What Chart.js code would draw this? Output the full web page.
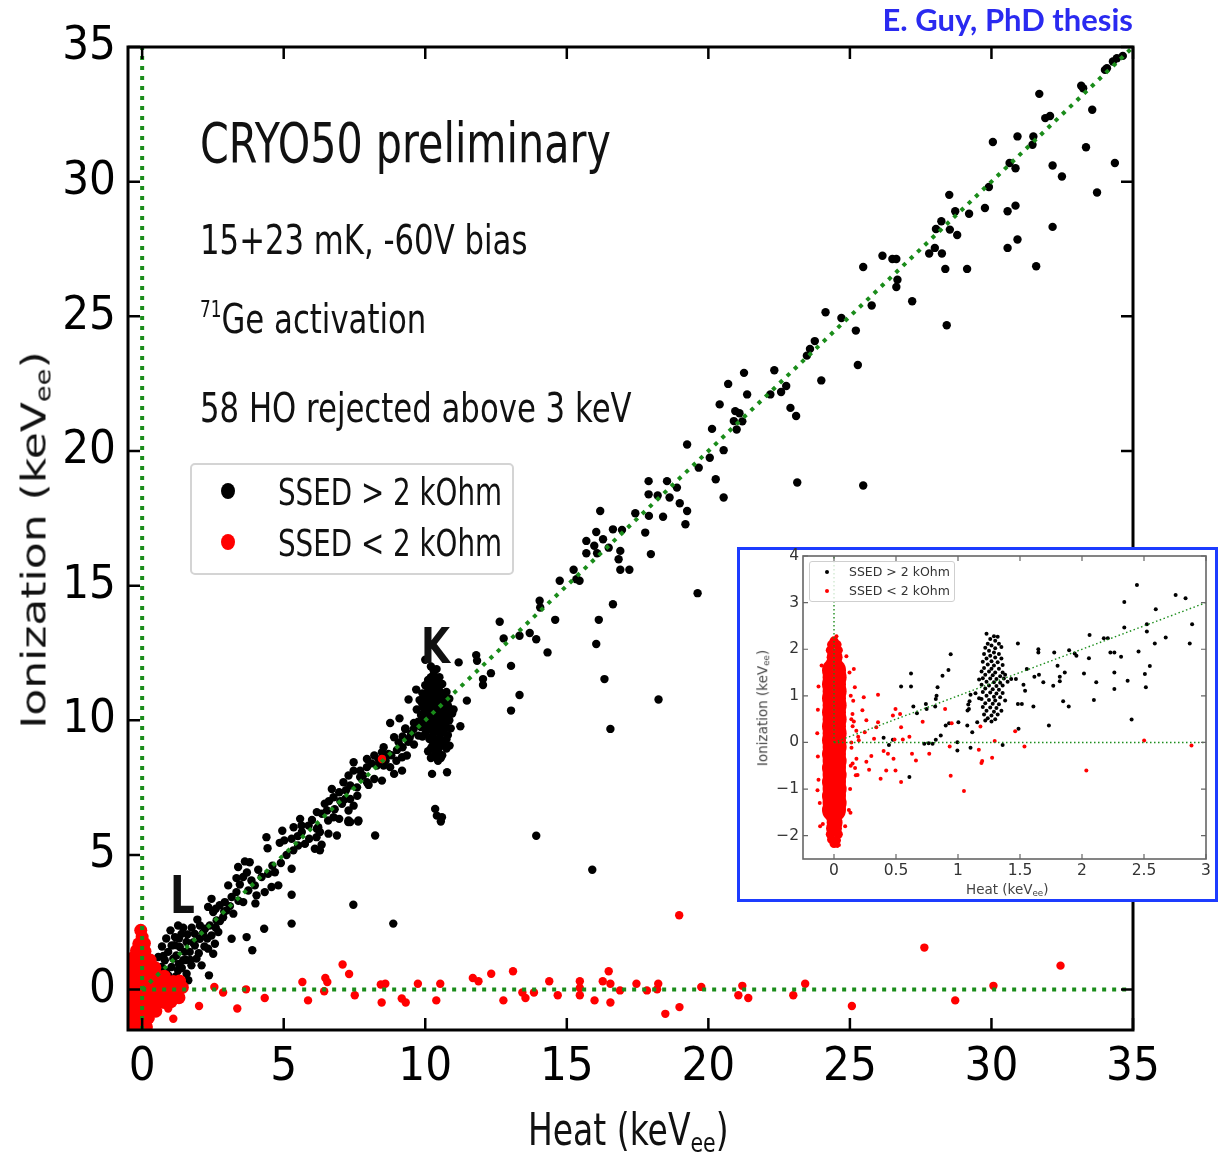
<!DOCTYPE html>
<html><head><meta charset="utf-8">
<script src="https://cdn.jsdelivr.net/npm/chart.js@4.4.1/dist/chart.umd.min.js"></script>
<style>
html,body{margin:0;padding:0;background:#fff;}
#wrap{position:relative;width:1223px;height:1152px;overflow:hidden;background:#fff;}
canvas{position:absolute;}
.t{position:absolute;white-space:nowrap;line-height:1;font-family:"DejaVu Sans",sans-serif;color:#111;transform-origin:0 0;transform:scaleX(0.75);}
.t sub{font-size:0.62em;vertical-align:-0.24em;line-height:0;}
.t sup{font-size:0.55em;vertical-align:0.72em;line-height:0;}
.n{position:absolute;white-space:nowrap;line-height:1;font-family:"DejaVu Sans",sans-serif;color:#333;}
.n sub{font-size:0.65em;vertical-align:-0.25em;line-height:0;}
.dot{position:absolute;border-radius:50%;}
</style></head>
<body><div id="wrap">
<canvas id="main" width="1223" height="1152" style="left:0;top:0;z-index:1"></canvas>
<div style="position:absolute;left:737px;top:547px;width:475px;height:349px;border:3px solid #1d3cff;background:#fff;z-index:2"></div>
<canvas id="inset" width="481" height="362" style="left:737px;top:540px;z-index:3"></canvas>

<div style="position:absolute;right:90px;top:4px;font-family:Lato,'Open Sans',sans-serif;font-weight:700;font-size:31px;line-height:1;color:#2a2af0;z-index:5;white-space:nowrap">E. Guy, PhD thesis</div>

<div class="t" style="left:200px;top:115.5px;font-size:55px;z-index:4">CRYO50 preliminary</div>
<div class="t" style="left:200px;top:220px;font-size:41px;z-index:4">15+23 mK, -60V bias</div>
<div class="t" style="left:200px;top:299px;font-size:41px;z-index:4"><sup>71</sup>Ge activation</div>
<div class="t" style="left:200px;top:388px;font-size:41px;z-index:4">58 HO rejected above 3 keV</div>

<div style="position:absolute;left:190px;top:463px;width:320px;height:108px;border:2px solid #d4d4d4;border-radius:5px;background:rgba(255,255,255,0.85);z-index:4"></div>
<div class="dot" style="left:221px;top:483px;width:14px;height:16px;background:#000;z-index:5"></div>
<div class="dot" style="left:221px;top:534px;width:14px;height:16px;background:#ff0000;z-index:5"></div>
<div class="t" style="left:278px;top:474px;font-size:37px;z-index:5">SSED &gt; 2 kOhm</div>
<div class="t" style="left:278px;top:525px;font-size:37px;z-index:5">SSED &lt; 2 kOhm</div>

<div class="t" style="left:421px;top:621px;font-size:50px;font-weight:700;z-index:4">K</div>
<div class="t" style="left:170px;top:869px;font-size:52px;font-weight:700;z-index:4">L</div>

<div class="t" style="left:528px;top:1108px;font-size:44px;z-index:4">Heat (keV<sub>ee</sub>)</div>
<div class="t" style="left:34px;top:540px;font-size:44px;z-index:4;transform:scaleX(0.75) rotate(-90deg) translate(-50%,-50%)">Ionization (keV<sub>ee</sub>)</div>

<div style="position:absolute;left:809px;top:561px;width:144px;height:39px;border:1px solid #cfcfcf;border-radius:3px;background:rgba(255,255,255,0.8);z-index:6"></div>
<div class="dot" style="left:825px;top:570px;width:4px;height:4px;background:#000;z-index:7"></div>
<div class="dot" style="left:825px;top:589px;width:4px;height:4px;background:#ff0000;z-index:7"></div>
<div class="n" style="left:849px;top:566px;font-size:12.5px;z-index:7">SSED &gt; 2 kOhm</div>
<div class="n" style="left:849px;top:585px;font-size:12.5px;z-index:7">SSED &lt; 2 kOhm</div>
<div class="n" style="left:966px;top:883px;font-size:13.5px;color:#444;z-index:7">Heat (keV<sub>ee</sub>)</div>
<div class="n" style="left:763px;top:708px;font-size:13.5px;color:#444;z-index:7;transform-origin:0 0;transform:rotate(-90deg) translate(-50%,-50%)">Ionization (keV<sub>ee</sub>)</div>
</div>
<script>
// ---------------- tick values ----------------
const mainXTicks = [0,5,10,15,20,25,30,35];
const mainYTicks = [0,5,10,15,20,25,30,35];
const insetXTicks = [0,0.5,1,1.5,2,2.5,3];
const insetYTicks = [-2,-1,0,1,2,3,4];

// ---------------- main chart: reference lines ----------------
const refVertical = [[0,-1.5],[0,35]];
const refHorizontal = [[0,0],[35,0]];
const refDiagonal = [[0,0],[35,35]];

// ---------------- main chart: SSED > 2 kOhm (black) ----------------
const blackUpper = [[34.64,34.67],[34.43,34.58],[34.29,34.46],[34.08,34.21],[34.01,34.15],[31.69,33.26],[33.17,33.56],[33.24,33.47],[33.56,32.67],[31.90,32.36],[32.07,32.44],[30.05,31.47],[30.92,31.68],[31.48,31.68],[31.45,31.37],[33.34,31.28],[34.36,30.69],[30.64,30.69],[30.85,30.50],[32.16,30.60],[32.49,30.19],[29.91,29.80],[33.73,29.60],[28.51,29.51],[28.72,28.90],[29.21,28.81],[29.77,29.02],[30.57,28.90],[30.85,29.11],[28.23,28.53],[28.04,28.24],[28.53,28.22],[28.79,28.02],[32.16,28.32],[30.92,27.85],[30.57,27.54],[27.80,27.33],[28.00,27.54],[28.25,27.33],[26.15,27.25],[26.50,27.13],[26.64,27.13],[25.47,26.83],[28.37,26.76],[29.14,26.76],[31.58,26.86],[26.68,26.36],[26.64,26.09],[27.20,25.56],[25.77,25.40],[24.14,25.15],[24.70,24.94],[25.21,24.47],[28.42,24.67],[23.76,24.08],[23.59,23.79],[23.48,23.54],[25.28,23.19],[21.26,22.90],[22.33,23.00],[23.99,22.62],[20.70,22.49],[22.75,22.41],[22.57,22.19],[21.37,22.10],[22.19,22.10],[21.1,21.4],[21.2,21.1],[21.0,20.8],[22.9,21.6],[23.1,21.3],[23.14,18.83],[25.47,18.72]];
const blackMid = [[20.40,21.73],[20.95,21.48],[20.90,21.11],[20.13,20.82],[20.54,20.03],[20.05,19.75],[19.66,19.38],[19.25,20.24],[20.26,18.95],[20.54,18.27],[17.89,18.88],[17.89,18.39],[18.54,18.88],[18.63,18.27],[18.89,18.64],[18.99,18.06],[19.25,17.77],[19.19,17.28],[18.21,18.35],[17.90,17.59],[18.40,17.56],[17.42,17.69],[17.77,16.97],[17.97,16.17],[16.18,17.77],[16.63,17.09],[16.95,17.07],[16.04,16.99],[15.69,16.66],[15.97,16.48],[16.28,16.72],[16.48,16.41],[15.69,16.20],[16.07,16.20],[16.89,16.29],[16.83,15.98],[16.89,15.59],[17.21,15.59],[15.24,15.59],[15.34,15.24],[15.45,15.18],[14.75,15.18],[14.04,14.44],[14.06,14.19],[14.59,13.73],[16.13,13.73],[16.63,14.31],[19.62,14.72],[12.63,13.66],[12.77,13.04],[13.33,13.14],[13.69,13.24],[13.92,13.01],[14.32,12.52],[16.04,12.83],[11.80,12.42],[11.83,12.21],[12.32,11.75],[12.04,11.53],[12.04,11.31],[11.18,12.15],[13.03,12.02],[13.33,10.94],[11.47,10.73],[13.03,10.36],[16.33,11.53],[18.24,10.77],[16.54,9.68],[13.92,5.71],[15.9,4.45]];
const blackK = [[10.2,12.0],[10.4,11.9],[10.3,11.7],[10.5,11.6],[10.1,11.5],[10.35,11.4],[10.6,11.35],[10.0,11.3],[10.25,11.2],[10.5,11.1],[10.75,11.05],[9.9,11.0],[10.15,10.95],[10.4,10.9],[10.65,10.85],[10.85,10.8],[9.8,10.75],[10.05,10.7],[10.3,10.65],[10.55,10.6],[10.8,10.55],[9.95,10.45],[10.2,10.4],[10.45,10.35],[10.7,10.3],[10.95,10.25],[9.85,10.2],[10.1,10.15],[10.35,10.1],[10.6,10.05],[10.85,10.0],[9.75,9.95],[10.0,9.9],[10.25,9.85],[10.5,9.8],[10.75,9.75],[10.05,9.6],[10.3,9.55],[10.55,9.5],[10.8,9.45],[9.9,9.4],[10.15,9.3],[10.4,9.25],[10.65,9.2],[10.25,9.05],[10.5,9.0],[10.75,8.95],[10.1,8.85],[10.35,8.75],[10.6,8.7],[10.45,8.5],[10.2,8.6],[10.9,9.7],[11.0,10.4],[9.7,10.4],[9.6,9.9],[9.5,9.5],[9.3,9.7],[9.4,9.2],[9.6,9.1],[9.2,9.4],[10.0,12.25],[11.24,9.78],[10.86,9.06],[10.24,8.01],[10.77,8.07],[10.35,6.71],[10.41,6.46],[10.59,6.40],[10.55,6.24],[9.68,11.14],[9.41,10.77],[9.29,9.68],[9.59,9.68],[9.76,9.43],[9.09,10.07],[8.76,9.90],[8.90,9.37],[9.06,9.18],[8.53,9.00],[8.47,8.81],[8.70,8.75],[8.98,8.50],[9.18,8.63],[9.35,8.69],[8.20,8.69],[7.94,8.56],[8.29,8.32],[8.53,8.32],[8.76,8.26],[8.90,8.01],[9.18,8.13],[10.3,11.85],[10.2,11.6],[10.45,11.5],[10.25,11.35],[10.45,11.25],[10.1,11.1],[10.35,11.05],[10.6,11.0],[9.95,10.85],[10.25,10.8],[10.5,10.75],[10.75,10.7],[9.9,10.6],[10.15,10.55],[10.4,10.5],[10.65,10.45],[10.9,10.4],[10.05,10.3],[10.3,10.25],[10.55,10.2],[10.8,10.15],[9.9,10.05],[10.2,10.0],[10.45,9.95],[10.7,9.9],[9.85,9.75],[10.15,9.7],[10.4,9.65],[10.65,9.6],[10.0,9.5],[10.25,9.4],[10.5,9.35],[10.75,9.3],[10.35,9.15],[10.6,9.1],[10.2,8.95],[10.45,8.9],[10.3,8.65],[10.55,8.6]];
const blackBand = [[7.94,8.26],[7.70,8.13],[7.47,8.44],[7.47,8.13],[7.29,7.95],[7.70,7.89],[7.94,7.70],[8.20,7.82],[8.47,7.76],[7.11,7.70],[7.35,7.58],[7.59,7.51],[6.70,7.45],[6.96,7.33],[7.17,7.08],[6.76,7.14],[7.35,7.08],[7.47,6.83],[7.29,6.65],[7.06,6.90],[6.53,6.65],[6.35,6.53],[6.17,6.59],[6.76,6.40],[6.96,6.34],[7.29,6.28],[7.35,6.22],[7.64,6.28],[5.58,6.34],[5.88,6.09],[5.35,6.03],[6.17,5.97],[5.64,5.85],[6.88,5.72],[6.58,5.79],[8.23,5.72],[5.63,6.09],[6.22,6.03],[6.28,5.85],[6.16,5.66],[6.34,5.38],[6.10,5.23],[6.28,5.17],[6.57,6.28],[7.28,6.22],[7.63,6.24],[4.39,5.66],[4.43,5.25],[4.86,5.45],[5.02,5.54],[5.28,5.60],[5.34,5.17],[5.51,5.35],[5.75,5.41],[5.28,4.49],[5.28,3.52],[5.28,2.45],[7.46,3.15],[8.87,2.45],[4.31,2.26],[3.39,4.55],[3.63,4.76],[3.80,4.73],[3.33,4.14],[3.57,4.18],[3.86,4.05],[3.98,3.87],[4.22,4.18],[4.45,4.30],[4.69,4.36],[4.81,3.87],[4.57,3.81],[4.33,3.62],[4.04,3.50],[3.75,3.68],[3.57,3.25],[3.33,3.62],[3.04,3.87],[3.16,3.44],[2.92,3.25],[2.74,3.13],[2.98,2.94],[3.22,2.82],[2.86,2.69],[2.45,3.37],[2.33,3.07],[2.51,2.88],[2.63,2.57],[2.39,2.38],[2.22,2.26],[2.69,2.14],[2.45,2.01],[2.57,1.70],[2.33,1.52],[2.51,1.33],[2.04,2.38],[1.86,2.07],[2.04,1.89],[1.86,1.64],[1.68,1.40],[1.92,1.15],[2.10,0.90],[1.74,0.90],[1.27,2.38],[1.39,2.07],[1.16,1.95],[1.57,1.77],[1.33,1.58],[1.04,1.64],[0.92,1.40],[1.21,1.27],[1.45,1.09],[0.80,1.09],[0.68,0.84],[1.04,0.84],[1.27,0.72],[1.57,0.59],[0.92,0.53],[0.57,1.21],[0.45,0.90],[0.33,0.65],[3.16,1.89],[3.69,1.95],[3.89,1.46],[2.36,0.53],[1.63,0.35],[0.98,0.16]];
const blackLowExtra = [[0.7,1.6],[0.85,1.9],[1.0,2.2],[1.15,1.65],[1.3,1.9],[1.45,2.3],[1.5,1.4],[1.6,2.05],[1.75,2.3],[1.8,1.75],[1.95,2.6],[2.15,2.1],[2.2,1.6],[2.0,1.35],[1.55,1.1],[1.3,0.95],[1.1,1.15],[0.85,0.7],[0.55,0.55],[0.75,1.25],[1.2,0.5],[1.4,0.8],[1.7,1.1],[2.3,1.9],[2.6,2.3],[2.75,2.55],[2.9,2.9],[3.1,3.1],[2.6,3.0],[3.4,3.3],[3.45,3.9],[3.7,4.35],[4.1,4.45],[4.0,3.2],[4.6,4.6],[4.9,4.7],[5.1,5.0],[4.95,5.9],[5.5,5.7],[5.9,5.6],[6.0,6.3],[6.45,6.9],[6.6,7.0],[7.0,7.0],[7.2,7.4],[7.8,7.95],[8.1,8.4],[8.35,8.55],[8.6,8.5],[8.8,8.7],[9.0,8.9],[9.2,9.0],[9.45,9.35],[7.6,7.2],[6.8,6.7],[8.0,7.6]];

// ---------------- main chart: SSED < 2 kOhm (red) ----------------
const redScatter = [[2.55,0.10],[2.86,-0.11],[2.01,-0.61],[3.36,-0.70],[3.67,0.01],[4.33,-0.31],[5.66,0.28],[5.86,-0.40],[6.47,0.43],[6.54,0.28],[6.43,-0.06],[7.08,0.93],[7.31,0.58],[7.51,-0.21],[8.43,0.19],[8.59,0.22],[8.46,-0.48],[9.17,-0.33],[9.31,-0.48],[9.74,0.22],[10.39,-0.40],[10.53,0.22],[11.68,0.43],[11.88,0.31],[12.33,0.59],[12.76,-0.40],[13.10,0.68],[13.43,-0.11],[13.54,-0.31],[13.84,-0.11],[14.38,0.31],[14.68,-0.21],[15.46,0.31],[15.46,0.06],[15.46,-0.21],[15.98,-0.40],[16.27,0.31],[16.48,0.68],[16.54,0.22],[16.54,-0.48],[16.88,-0.03],[17.46,0.22],[17.83,-0.03],[18.23,0.22],[18.19,0.01],[18.48,-0.9],[18.98,-0.65],[19.75,0.10],[18.97,2.76],[21.06,-0.21],[21.20,0.14],[21.41,-0.31],[23.00,-0.21],[23.42,0.22],[25.07,-0.61],[27.63,1.56],[28.72,-0.40],[30.07,0.14],[32.44,0.89],[8.47,8.56],[0.92,-0.70],[1.10,-1.08]];
const redBlob = [[-0.05,2.2],[0.0,1.95],[-0.12,1.7],[0.08,1.72],[-0.2,1.45],[0.1,1.42],[-0.3,1.2],[0.0,1.18],[0.28,1.1],[-0.32,0.9],[-0.1,0.88],[0.2,0.85],[0.45,0.82],[-0.35,0.6],[-0.1,0.58],[0.2,0.56],[0.5,0.55],[0.78,0.5],[-0.4,0.3],[-0.1,0.3],[0.2,0.28],[0.5,0.3],[0.8,0.28],[1.1,0.3],[1.32,0.32],[-0.4,0.03],[-0.1,0.05],[0.2,0.03],[0.5,0.05],[0.8,0.02],[1.1,0.05],[1.42,0.08],[-0.4,-0.22],[-0.1,-0.2],[0.2,-0.22],[0.5,-0.2],[0.8,-0.22],[1.1,-0.2],[1.3,-0.3],[-0.4,-0.5],[-0.1,-0.5],[0.2,-0.5],[0.5,-0.5],[0.8,-0.48],[1.02,-0.45],[-0.4,-0.8],[-0.1,-0.8],[0.2,-0.78],[0.48,-0.8],[-0.4,-1.1],[-0.1,-1.1],[0.22,-1.05],[-0.4,-1.4],[-0.1,-1.38],[0.15,-1.38]];

// ---------------- inset (0-3 keV zoom) ----------------
const insetRefVertical = [[0,0],[0,4]];
const insetRefHorizontal = [[0,0],[3,0]];
const insetRefDiagonal = [[0,0],[3,3]];
const insetBlack = [[2.443,3.376],[2.341,3.013],[2.755,3.162],[2.835,3.091],[2.595,2.856],[2.888,2.535],[2.523,2.535],[2.523,2.379],[2.341,2.464],[2.675,2.250],[2.869,2.122],[2.587,2.122],[2.456,1.951],[2.547,1.638],[2.507,1.467],[2.515,1.182],[2.368,1.325],[2.261,1.503],[2.261,1.147],[2.400,0.491],[2.176,2.236],[2.208,2.236],[2.061,2.307],[2.056,1.809],[2.229,1.930],[2.261,1.930],[2.315,1.838],[1.941,1.909],[1.955,1.859],[1.896,1.980],[2.016,1.481],[2.115,1.289],[2.096,0.911],[1.776,1.930],[1.648,2.001],[1.648,1.930],[1.803,1.645],[1.861,1.503],[1.821,1.410],[1.821,1.311],[1.768,1.218],[1.848,0.883],[1.893,0.769],[1.733,0.363],[1.616,1.410],[1.653,1.453],[1.688,1.289],[1.608,0.769],[1.555,1.574],[1.528,1.239],[1.483,2.122],[1.429,1.360],[1.467,1.360],[1.515,0.826],[1.483,0.826],[1.488,0.292],[1.541,1.111],[1.360,-0.057],[1.083,0.812],[1.088,0.719],[1.093,0.883],[1.077,0.684],[1.101,1.025],[1.141,1.054],[1.003,0.434],[1.075,0.363],[1.115,0.221],[1.155,0.434],[0.995,0.007],[0.995,-0.171],[1.101,-0.114],[0.941,1.894],[0.923,1.553],[0.875,1.431],[0.835,1.182],[0.827,1.004],[0.821,0.933],[0.741,0.826],[0.747,0.719],[0.816,0.769],[0.640,0.769],[0.621,1.203],[0.541,1.203],[0.621,1.481],[0.861,0.149],[0.901,0.363],[0.928,0.412],[0.763,-0.015],[0.795,-0.029],[0.728,-0.029],[0.821,0.057],[0.608,-0.741],[0.669,0.626],[0.443,-0.057],[0.400,0.100],[0.475,0.057]];
const insetBlackCluster = [[1.23,2.33],[1.29,2.28],[1.32,2.27],[1.26,2.22],[1.30,2.18],[1.24,2.12],[1.33,2.12],[1.27,2.08],[1.22,2.03],[1.30,2.02],[1.35,2.05],[1.25,1.97],[1.29,1.93],[1.21,1.9],[1.33,1.9],[1.26,1.86],[1.3,1.82],[1.23,1.8],[1.35,1.8],[1.2,1.73],[1.27,1.74],[1.32,1.72],[1.24,1.67],[1.29,1.65],[1.36,1.66],[1.21,1.6],[1.27,1.58],[1.33,1.58],[1.19,1.52],[1.25,1.52],[1.3,1.5],[1.36,1.5],[1.22,1.45],[1.28,1.44],[1.34,1.42],[1.2,1.38],[1.26,1.37],[1.31,1.36],[1.37,1.37],[1.23,1.3],[1.29,1.29],[1.34,1.28],[1.19,1.24],[1.25,1.22],[1.31,1.21],[1.36,1.22],[1.22,1.16],[1.28,1.14],[1.33,1.13],[1.2,1.08],[1.26,1.07],[1.31,1.05],[1.36,1.06],[1.23,1.0],[1.29,0.98],[1.34,0.97],[1.19,0.93],[1.25,0.91],[1.3,0.9],[1.22,0.84],[1.28,0.83],[1.33,0.82],[1.2,0.76],[1.26,0.75],[1.31,0.74],[1.23,0.68],[1.29,0.66],[1.35,0.68],[1.21,0.6],[1.27,0.58],[1.32,0.6],[1.24,0.52],[1.3,0.5],[1.27,0.45],[1.22,0.47],[1.38,1.45],[1.4,1.3],[1.17,1.35],[1.17,0.95],[1.38,0.9]];
const insetRed = [[2.501,0.043],[2.883,-0.064],[2.035,-0.599],[1.536,-0.086],[1.461,0.242],[1.296,0.029],[1.275,-0.328],[1.195,-0.399],[1.189,-0.442],[1.168,-0.157],[1.181,0.342],[1.048,-1.040],[0.941,-0.713],[0.933,-0.086],[0.896,0.719],[0.949,0.412],[0.768,-0.242],[0.715,0.442],[0.661,-0.385],[0.608,0.121],[0.629,-0.242],[0.555,0.066],[0.541,-0.848],[0.496,-0.599],[0.488,0.066],[0.480,-0.349],[0.496,0.719],[0.475,0.577],[0.533,0.612],[0.541,0.327],[0.421,-0.599],[0.435,-0.242],[0.400,-0.185],[0.376,-0.777],[0.355,1.025],[0.355,0.434],[0.341,0.327],[0.283,-0.584],[0.301,-0.292],[0.261,-0.413],[0.248,0.221],[0.240,0.969],[0.229,0.691],[0.261,0.477],[0.195,0.121],[0.181,-0.349],[0.176,-0.705],[0.160,1.574],[0.168,1.182],[0.155,0.897],[0.149,0.612],[0.141,-0.114],[0.133,-1.510],[-0.133,-1.026],[-0.112,-1.795],[0.027,-2.222],[0.323,0.079],[0.16,0.45],[0.18,0.25],[0.2,0.05],[0.17,-0.55],[0.19,-0.7],[0.15,-0.45],[0.15,0.35],[-0.125,1.2],[-0.13,0.7],[-0.135,0.2],[-0.13,-0.3],[-0.125,-0.8],[-0.115,-1.3],[-0.1,1.65],[0.125,1.5],[0.135,1.0],[0.14,0.5],[0.14,0.0],[0.135,-0.5],[0.13,-1.0],[0.12,-1.45],[0.1,1.85],[-0.09,-1.75],[0.09,-1.8],[0.02,2.28],[0.04,-2.2]];
const insetBlobCore = [[0.0,-1.45],[0.005,-1.3],[0.0,-1.15],[0.005,-1.0],[0.0,-0.85],[0.005,-0.7],[0.0,-0.55],[0.005,-0.4],[0.0,-0.25],[0.005,-0.1],[0.0,0.05],[0.005,0.2],[0.0,0.35],[0.005,0.5],[0.0,0.65],[0.005,0.8],[0.0,0.95],[0.005,1.1],[0.0,1.25],[0.005,1.4],[0.0,1.55]];
const insetBlobMid = [[0.0,1.7],[0.005,1.83],[0.0,-1.6],[0.005,-1.72],[0.0,-1.84]];
const insetBlobTip = [[-0.03,1.98],[0.035,1.98],[-0.02,2.1],[0.025,2.1],[0.0,2.18],[-0.03,-1.97],[0.035,-1.97],[-0.02,-2.08],[0.02,-2.1],[0.0,-2.17]];

// ---------------- helpers ----------------
const pts = a => a.map(p => ({x:p[0], y:p[1]}));
const GREEN = '#1a8c1a';

const frameTicks = {
  id:'frameTicks',
  afterDatasetsDraw(chart, args, o){
    const {ctx, chartArea:a, scales:{x,y}} = chart;
    ctx.save();
    ctx.strokeStyle = o.color; ctx.lineWidth = o.tickWidth; ctx.beginPath();
    x.ticks.forEach(t=>{const p=x.getPixelForValue(t.value); ctx.moveTo(p,a.bottom); ctx.lineTo(p,a.bottom-o.len); ctx.moveTo(p,a.top); ctx.lineTo(p,a.top+o.len);});
    y.ticks.forEach(t=>{const p=y.getPixelForValue(t.value); ctx.moveTo(a.left,p); ctx.lineTo(a.left+o.len,p); ctx.moveTo(a.right,p); ctx.lineTo(a.right-o.len,p);});
    ctx.stroke();
    ctx.lineWidth = o.frameWidth;
    ctx.strokeRect(a.left, a.top, a.right-a.left, a.bottom-a.top);
    ctx.restore();
  }
};

function pointSet(label, arr, color, r, order){
  return {label, data:pts(arr), backgroundColor:color, borderWidth:0, pointRadius:r, pointHoverRadius:r, order, clip:0};
}
function refLine(arr, width, dash, order){
  return {type:'line', data:pts(arr), borderColor:GREEN, borderWidth:width, borderDash:dash, pointRadius:0, fill:false, showLine:true, tension:0, order, clip:0, borderCapStyle:'butt'};
}

// ---------------- main chart ----------------
const tickFontMain = {family:'"Liberation Sans Narrow", "DejaVu Sans Condensed", sans-serif', size:47};
new Chart(document.getElementById('main'), {
  type:'scatter',
  data:{datasets:[
    refLine(refVertical, 4, [4,6], 0),
    refLine(refHorizontal, 4, [4,6], 0),
    refLine(refDiagonal, 4, [4,6], 0),
    pointSet('SSED < 2 kOhm', redScatter, '#ff0000', 4.2, 1),
    pointSet('SSED < 2 kOhm blob', redBlob, '#ff0000', 6.5, 1),
    pointSet('SSED > 2 kOhm', blackUpper.concat(blackMid, blackK, blackBand, blackLowExtra), '#000000', 4.2, 2)
  ]},
  options:{
    responsive:false, animation:false, events:[],
    layout:{padding:{top:47,right:90,left:0,bottom:0}},
    plugins:{legend:{display:false}, tooltip:{enabled:false},
      frameTicks:{color:'#000', tickWidth:2.5, len:12, frameWidth:3}},
    scales:{
      x:{type:'linear', min:-0.5, max:35,
        grid:{display:false, drawTicks:false}, border:{display:false},
        ticks:{autoSkip:false, maxRotation:0, padding:10, color:'#000', font:tickFontMain},
        afterBuildTicks:s=>{s.ticks = mainXTicks.map(v=>({value:v}));},
        afterFit:s=>{s.height = 122;}},
      y:{type:'linear', min:-1.5, max:35,
        grid:{display:false, drawTicks:false}, border:{display:false},
        ticks:{autoSkip:false, padding:12, color:'#000', font:tickFontMain},
        afterBuildTicks:s=>{s.ticks = mainYTicks.map(v=>({value:v}));},
        afterFit:s=>{s.width = 128;}}
    }
  },
  plugins:[frameTicks]
});

// ---------------- inset chart ----------------
const fmtMinus = v => (v < 0 ? '\u2212' + Math.abs(v) : String(v));
new Chart(document.getElementById('inset'), {
  type:'scatter',
  data:{datasets:[
    refLine(insetRefVertical, 1.4, [1.5,2.5], 0),
    refLine(insetRefHorizontal, 1.4, [1.5,2.5], 0),
    refLine(insetRefDiagonal, 1.4, [1.5,2.5], 0),
    pointSet('SSED < 2 kOhm', insetRed, '#ff0000', 2, 1),
    pointSet('blob core', insetBlobCore, '#ff0000', 12, 1),
    pointSet('blob mid', insetBlobMid, '#ff0000', 8, 1),
    pointSet('blob tip', insetBlobTip, '#ff0000', 4.5, 1),
    pointSet('SSED > 2 kOhm', insetBlack.concat(insetBlackCluster), '#000000', 2, 2)
  ]},
  options:{
    responsive:false, animation:false, events:[],
    layout:{padding:{top:16,right:8,left:0,bottom:0}},
    plugins:{legend:{display:false}, tooltip:{enabled:false},
      frameTicks:{color:'#666', tickWidth:1.2, len:5, frameWidth:1.6}},
    scales:{
      x:{type:'linear', min:-0.25, max:3,
        grid:{display:false, drawTicks:false}, border:{display:false},
        ticks:{autoSkip:false, maxRotation:0, padding:3, color:'#333', callback:fmtMinus,
          font:{family:'"DejaVu Sans", sans-serif', size:15.5}},
        afterBuildTicks:s=>{s.ticks = insetXTicks.map(v=>({value:v}));},
        afterFit:s=>{s.height = 43;}},
      y:{type:'linear', min:-2.5, max:4,
        grid:{display:false, drawTicks:false}, border:{display:false},
        ticks:{autoSkip:false, padding:4, color:'#333', callback:fmtMinus,
          font:{family:'"DejaVu Sans", sans-serif', size:15.5}},
        afterBuildTicks:s=>{s.ticks = insetYTicks.map(v=>({value:v}));},
        afterFit:s=>{s.width = 66;}}
    }
  },
  plugins:[frameTicks]
});
</script>
</body></html>
